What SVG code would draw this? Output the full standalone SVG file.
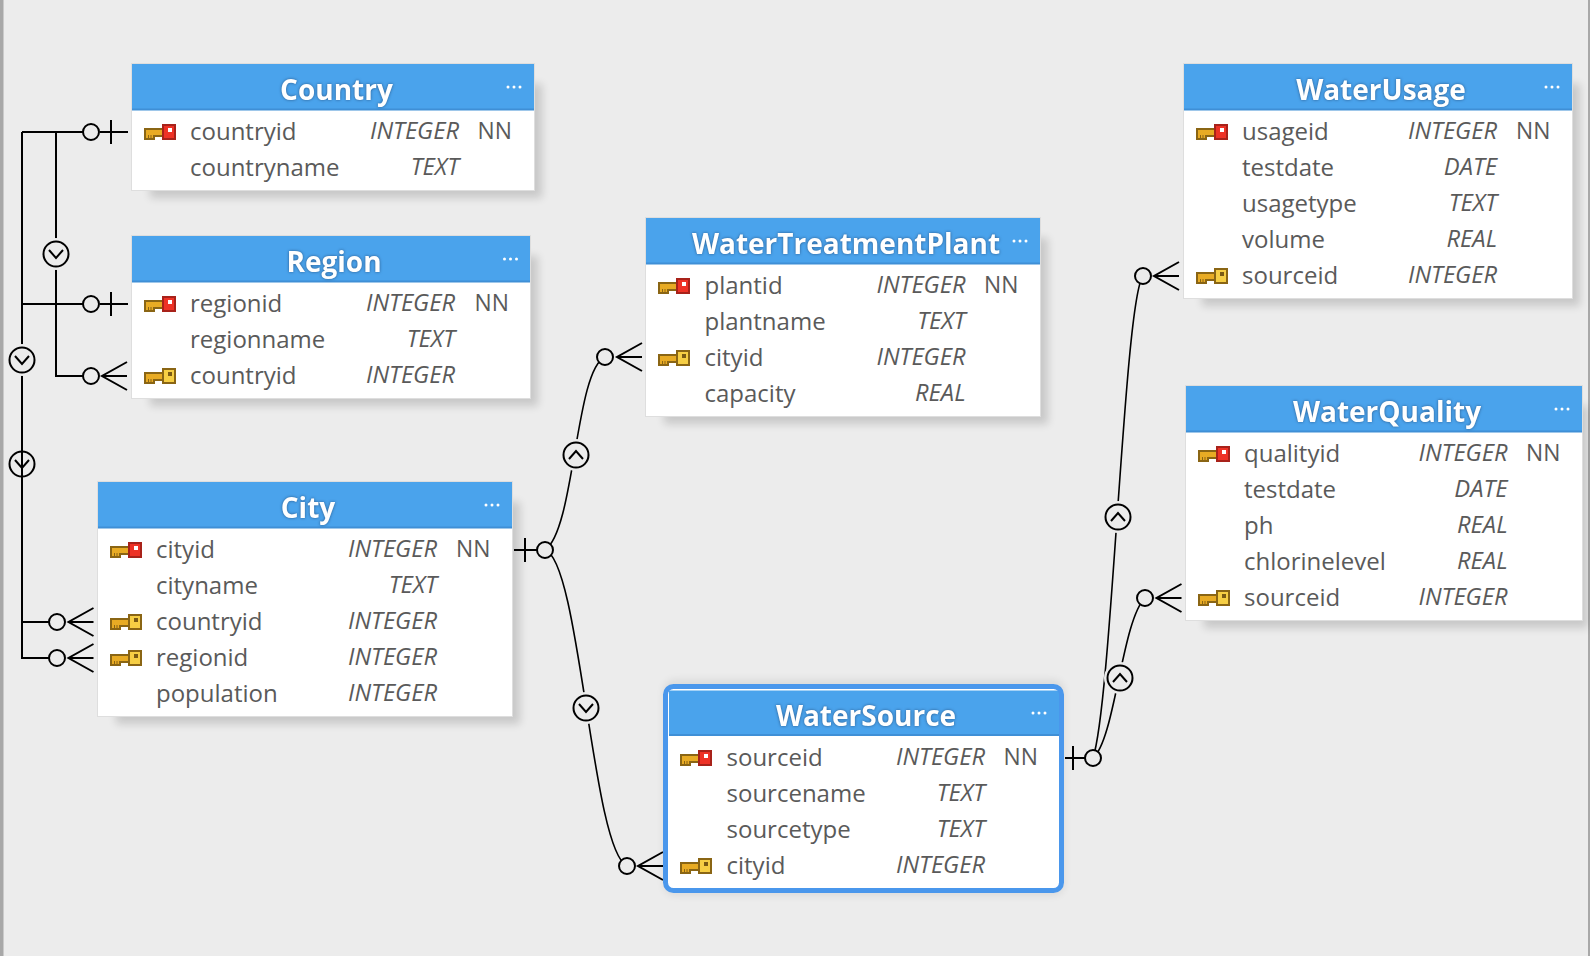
<svg xmlns="http://www.w3.org/2000/svg" xmlns:xlink="http://www.w3.org/1999/xlink" width="1590" height="956" viewBox="0 0 1590 956">
<style>
.bg{fill:#ececec}
.body{fill:#fff;stroke:#dedede;stroke-width:2;paint-order:stroke}
.head{fill:#4aa3ec}
.hl{fill:#3f8fd6}
.shadow{fill:#000;opacity:.15;filter:url(#blur)}
.title{font:700 28px "Open Sans","Noto Sans",sans-serif;fill:#fff;text-anchor:middle;filter:drop-shadow(0 0 1.5px rgba(30,60,100,.7))}
.n{font:24px "Open Sans","Noto Sans",sans-serif;fill:#5a5a5a}
.t{font:italic 23.700px "Open Sans","Noto Sans",sans-serif;fill:#5a5a5a;text-anchor:end}
.nn{font:22.800px "Open Sans","Noto Sans",sans-serif;fill:#5a5a5a}
.dot{fill:#fff}
.c{fill:none;stroke:#000;stroke-width:2}
.k{fill:none;stroke:#000;stroke-width:1.600}
.ring{fill:#ececec;stroke:#000;stroke-width:2}
.halo{fill:#ececec}
.sel{fill:none;stroke:#4a97ec;stroke-width:5}
</style>
<defs>
<filter id="blur" x="-10%" y="-10%" width="120%" height="120%"><feGaussianBlur stdDeviation="4"/></filter>
<g id="shaft">
<rect x="0" y="4" width="20" height="2" fill="#8a6514"/>
<rect x="0" y="4" width="2" height="12" fill="#8a6514"/>
<rect x="2" y="6" width="16" height="5" fill="#e8ab24"/>
<rect x="2" y="11" width="7" height="3" fill="#e8ab24"/>
<rect x="9" y="11" width="9" height="2" fill="#8a6514"/>
<rect x="9" y="11" width="2" height="5" fill="#8a6514"/>
<rect x="2" y="14" width="8" height="2" fill="#8a6514"/>
<rect x="4" y="11" width="1" height="3" fill="#8a6514"/>
<rect x="6.500" y="11" width="1" height="3" fill="#8a6514"/>
</g>
<g id="pk">
<use xlink:href="#shaft" href="#shaft"/>
<rect x="18" y="0" width="14" height="16" fill="#a8221a"/>
<rect x="20" y="2" width="10" height="12" fill="#ee3226"/>
<rect x="24" y="4" width="4" height="4" fill="#fff"/>
</g>
<g id="fk">
<use xlink:href="#shaft" href="#shaft"/>
<rect x="18" y="0" width="14" height="16" fill="#8a6514"/>
<rect x="20" y="2" width="10" height="12" fill="#f6ce44"/>
<rect x="24" y="4" width="4" height="4" fill="#7a5a14"/>
</g>
<g id="one" class="c"><path d="M-28 0H0M-17 -12V12"/></g>
<g id="many" class="c"><path d="M0 -14L-25 0L0 14M-25 0H0"/></g>
<g id="chevD"><circle r="16" class="halo"/><circle r="12.5" class="ring"/><path class="c" d="M-7 -4L0 4L7 -4"/></g>
<g id="chevU"><circle r="16" class="halo"/><circle r="12.5" class="ring"/><path class="c" d="M-7 4L0 -4L7 4"/></g>
</defs>

<rect class="bg" x="0" y="0" width="1590" height="956"/>
<rect x="0" y="0" width="3.500" height="956" fill="#a8a8a8"/>
<rect x="1588" y="0" width="2" height="956" fill="#a8a8a8"/>

<g id="Country">
<rect class="shadow" x="150" y="84" width="392" height="114"/>
<rect class="body" x="132" y="64" width="402" height="126"/>
<rect class="head" x="132" y="64" width="402" height="46"/><rect class="hl" x="132" y="108.500" width="402" height="2"/>
<text class="title" x="336.500" y="100">Country</text>
<circle class="dot" cx="508" cy="87" r="1.500"/><circle class="dot" cx="514" cy="87" r="1.500"/><circle class="dot" cx="520" cy="87" r="1.500"/>
<use xlink:href="#pk" href="#pk" x="144" y="124"/>
<text class="n" x="190" y="140">countryid</text><text class="t" x="459" y="138.500">INTEGER</text><text class="nn" x="477.500" y="138.500">NN</text>
<text class="n" x="190" y="176">countryname</text><text class="t" x="459" y="174.500">TEXT</text>
</g>

<g id="Region">
<rect class="shadow" x="150" y="256" width="388" height="150"/>
<rect class="body" x="132" y="236" width="398" height="162"/>
<rect class="head" x="132" y="236" width="398" height="46"/><rect class="hl" x="132" y="280.500" width="398" height="2"/>
<text class="title" x="334" y="272">Region</text>
<circle class="dot" cx="504.500" cy="259" r="1.500"/><circle class="dot" cx="510.500" cy="259" r="1.500"/><circle class="dot" cx="516.500" cy="259" r="1.500"/>
<use xlink:href="#pk" href="#pk" x="144" y="296"/>
<text class="n" x="190" y="312">regionid</text><text class="t" x="455" y="310.500">INTEGER</text><text class="nn" x="474.500" y="310.500">NN</text>
<text class="n" x="190" y="348">regionname</text><text class="t" x="455" y="346.500">TEXT</text>
<use xlink:href="#fk" href="#fk" x="144" y="368"/>
<text class="n" x="190" y="384">countryid</text><text class="t" x="455" y="382.500">INTEGER</text>
</g>

<g id="City">
<rect class="shadow" x="116" y="502" width="404" height="222"/>
<rect class="body" x="98" y="482" width="414" height="234"/>
<rect class="head" x="98" y="482" width="414" height="46"/><rect class="hl" x="98" y="526.500" width="414" height="2"/>
<text class="title" x="308" y="518">City</text>
<circle class="dot" cx="486" cy="505" r="1.500"/><circle class="dot" cx="492" cy="505" r="1.500"/><circle class="dot" cx="498" cy="505" r="1.500"/>
<use xlink:href="#pk" href="#pk" x="110" y="542"/>
<text class="n" x="156" y="558">cityid</text><text class="t" x="437" y="556.500">INTEGER</text><text class="nn" x="456" y="556.500">NN</text>
<text class="n" x="156" y="594">cityname</text><text class="t" x="437" y="592.500">TEXT</text>
<use xlink:href="#fk" href="#fk" x="110" y="614"/>
<text class="n" x="156" y="630">countryid</text><text class="t" x="437" y="628.500">INTEGER</text>
<use xlink:href="#fk" href="#fk" x="110" y="650"/>
<text class="n" x="156" y="666">regionid</text><text class="t" x="437" y="664.500">INTEGER</text>
<text class="n" x="156" y="702">population</text><text class="t" x="437" y="700.500">INTEGER</text>
</g>

<g id="WaterTreatmentPlant">
<rect class="shadow" x="664" y="238" width="384" height="186"/>
<rect class="body" x="646" y="218" width="394" height="198"/>
<rect class="head" x="646" y="218" width="394" height="46"/><rect class="hl" x="646" y="262.500" width="394" height="2"/>
<text class="title" x="846" y="254">WaterTreatmentPlant</text>
<circle class="dot" cx="1014" cy="241" r="1.500"/><circle class="dot" cx="1020" cy="241" r="1.500"/><circle class="dot" cx="1026" cy="241" r="1.500"/>
<use xlink:href="#pk" href="#pk" x="658" y="278"/>
<text class="n" x="704.500" y="294">plantid</text><text class="t" x="965.500" y="292.500">INTEGER</text><text class="nn" x="984" y="292.500">NN</text>
<text class="n" x="704.500" y="330">plantname</text><text class="t" x="965.500" y="328.500">TEXT</text>
<use xlink:href="#fk" href="#fk" x="658" y="350"/>
<text class="n" x="704.500" y="366">cityid</text><text class="t" x="965.500" y="364.500">INTEGER</text>
<text class="n" x="704.500" y="402">capacity</text><text class="t" x="965.500" y="400.500">REAL</text>
</g>

<g id="WaterUsage">
<rect class="shadow" x="1202" y="84" width="378" height="222"/>
<rect class="body" x="1184" y="64" width="388" height="234"/>
<rect class="head" x="1184" y="64" width="388" height="46"/><rect class="hl" x="1184" y="108.500" width="388" height="2"/>
<text class="title" x="1381" y="100">WaterUsage</text>
<circle class="dot" cx="1546" cy="87" r="1.500"/><circle class="dot" cx="1552" cy="87" r="1.500"/><circle class="dot" cx="1558" cy="87" r="1.500"/>
<use xlink:href="#pk" href="#pk" x="1196" y="124"/>
<text class="n" x="1242" y="140">usageid</text><text class="t" x="1497" y="138.500">INTEGER</text><text class="nn" x="1516" y="138.500">NN</text>
<text class="n" x="1242" y="176">testdate</text><text class="t" x="1497" y="174.500">DATE</text>
<text class="n" x="1242" y="212">usagetype</text><text class="t" x="1497" y="210.500">TEXT</text>
<text class="n" x="1242" y="248">volume</text><text class="t" x="1497" y="246.500">REAL</text>
<use xlink:href="#fk" href="#fk" x="1196" y="268"/>
<text class="n" x="1242" y="284">sourceid</text><text class="t" x="1497" y="282.500">INTEGER</text>
</g>

<g id="WaterQuality">
<rect class="shadow" x="1204" y="406" width="384" height="222"/>
<rect class="body" x="1186" y="386" width="396" height="234"/>
<rect class="head" x="1186" y="386" width="396" height="46"/><rect class="hl" x="1186" y="430.500" width="396" height="2"/>
<text class="title" x="1387" y="422">WaterQuality</text>
<circle class="dot" cx="1556" cy="409" r="1.500"/><circle class="dot" cx="1562" cy="409" r="1.500"/><circle class="dot" cx="1568" cy="409" r="1.500"/>
<use xlink:href="#pk" href="#pk" x="1198" y="446"/>
<text class="n" x="1244" y="462">qualityid</text><text class="t" x="1507.500" y="460.500">INTEGER</text><text class="nn" x="1526" y="460.500">NN</text>
<text class="n" x="1244" y="498">testdate</text><text class="t" x="1507.500" y="496.500">DATE</text>
<text class="n" x="1244" y="534">ph</text><text class="t" x="1507.500" y="532.500">REAL</text>
<text class="n" x="1244" y="570">chlorinelevel</text><text class="t" x="1507.500" y="568.500">REAL</text>
<use xlink:href="#fk" href="#fk" x="1198" y="590"/>
<text class="n" x="1244" y="606">sourceid</text><text class="t" x="1507.500" y="604.500">INTEGER</text>
</g>

<g id="connectors">
<path class="c" d="M22 132V622H49M22 132H83M56 132V376H83"/>
<use xlink:href="#chevD" href="#chevD" x="56" y="254"/>
<use xlink:href="#chevD" href="#chevD" x="22" y="360"/>
<use xlink:href="#chevD" href="#chevD" x="22" y="464"/>
<path class="c" d="M22 304H83M22 304V340M22 376V658H49"/>
<circle class="ring" cx="91" cy="132" r="8"/><use xlink:href="#one" href="#one" x="128" y="132"/>
<circle class="ring" cx="91" cy="304" r="8"/><use xlink:href="#one" href="#one" x="128" y="304"/>
<circle class="ring" cx="91" cy="376" r="8"/><use xlink:href="#many" href="#many" x="127" y="376"/>
<circle class="ring" cx="57" cy="622" r="8"/><use xlink:href="#many" href="#many" x="93.500" y="622"/>
<circle class="ring" cx="57" cy="658" r="8"/><use xlink:href="#many" href="#many" x="93.500" y="658"/>

<path class="k" d="M545 550C575 530 575 370 605 357M545 550C580 560 592 850 627 866"/>
<use xlink:href="#chevU" href="#chevU" x="576" y="455"/>
<use xlink:href="#chevD" href="#chevD" x="586" y="708"/>
<circle class="ring" cx="545" cy="550" r="8"/><path class="c" d="M514 550H537M525 538V562"/>
<circle class="ring" cx="605" cy="357" r="8"/><use xlink:href="#many" href="#many" x="642" y="357"/>
<circle class="ring" cx="627" cy="866" r="8"/><use xlink:href="#many" href="#many" x="663" y="866"/>

<path class="k" d="M1093 758C1112 700 1124 300 1143 276M1093 758C1115 740 1122 620 1145 598"/>
<use xlink:href="#chevU" href="#chevU" x="1118" y="517"/>
<use xlink:href="#chevU" href="#chevU" x="1120" y="678"/>
<circle class="ring" cx="1093" cy="758" r="8"/><path class="c" d="M1065 758H1085M1073 746V770"/>
<circle class="ring" cx="1143" cy="276" r="8"/><use xlink:href="#many" href="#many" x="1179" y="276"/>
<circle class="ring" cx="1145" cy="598" r="8"/><use xlink:href="#many" href="#many" x="1181.500" y="598"/>
</g>

<g id="WaterSource">
<rect x="664" y="680" width="400" height="215" rx="10" fill="#000" opacity=".08" filter="url(#blur)"/>
<rect x="665.500" y="686.500" width="396" height="204" rx="8" fill="#fff"/>
<rect class="head" x="669" y="690.500" width="390" height="45.500"/><rect class="hl" x="669" y="734" width="390" height="2"/>
<rect class="sel" x="665.500" y="686.500" width="396" height="204" rx="8"/>
<text class="title" x="866" y="726">WaterSource</text>
<circle class="dot" cx="1033" cy="713" r="1.500"/><circle class="dot" cx="1039" cy="713" r="1.500"/><circle class="dot" cx="1045" cy="713" r="1.500"/>
<use xlink:href="#pk" href="#pk" x="680" y="750"/>
<text class="n" x="726.500" y="766">sourceid</text><text class="t" x="985" y="764.500">INTEGER</text><text class="nn" x="1003.500" y="764.500">NN</text>
<text class="n" x="726.500" y="802">sourcename</text><text class="t" x="985" y="800.500">TEXT</text>
<text class="n" x="726.500" y="838">sourcetype</text><text class="t" x="985" y="836.500">TEXT</text>
<use xlink:href="#fk" href="#fk" x="680" y="858"/>
<text class="n" x="726.500" y="874">cityid</text><text class="t" x="985" y="872.500">INTEGER</text>
</g>
</svg>
